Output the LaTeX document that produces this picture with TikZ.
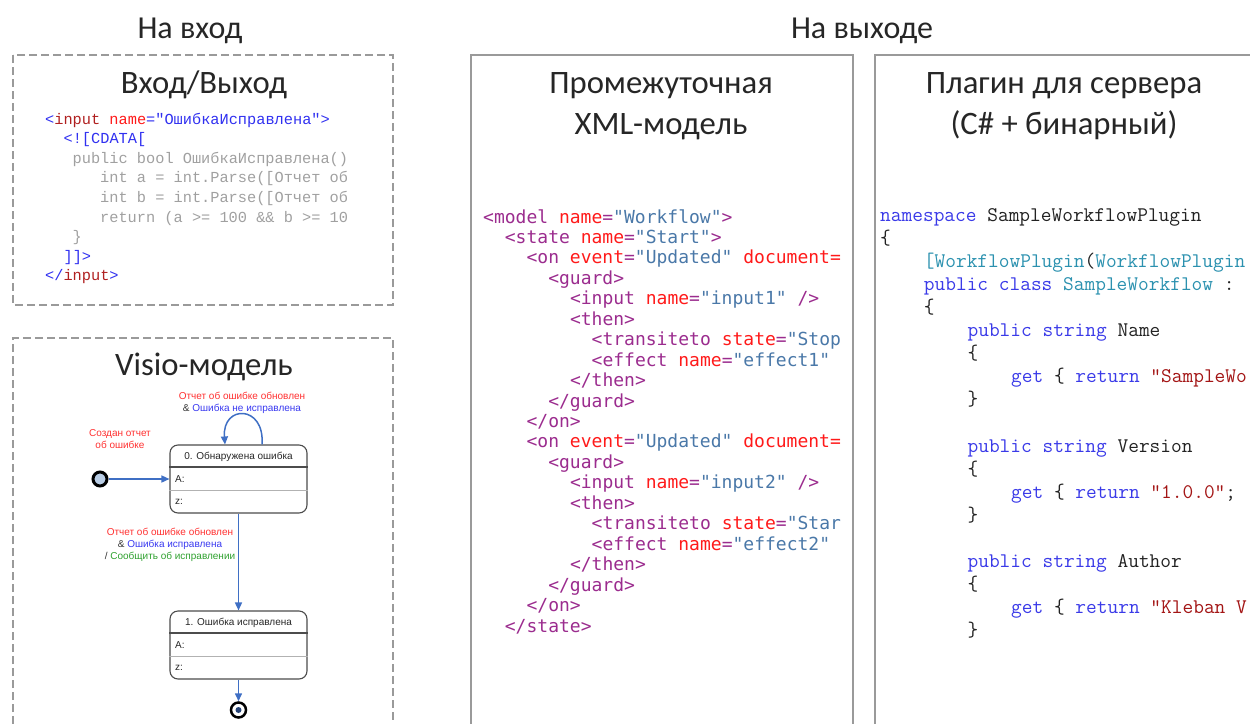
\documentclass[tikz,border=0pt]{standalone}
\usepackage{fontspec}
\setmainfont{Carlito}
\newfontfamily\cour{Liberation Mono}
\newfontfamily\cons{DejaVu Sans Mono}
\newfontfamily\arialf{Liberation Sans}
\usetikzlibrary{arrows.meta}
\definecolor{frame}{HTML}{9A9A9A}
\definecolor{xtag}{HTML}{9B2C8E}
\definecolor{xatt}{HTML}{FF1A1A}
\definecolor{xval}{HTML}{4A78A8}
\definecolor{ckey}{HTML}{3A3AE8}
\definecolor{ctyp}{HTML}{2B91AF}
\definecolor{cstr}{HTML}{A31515}
\definecolor{cpl}{HTML}{222222}
\definecolor{lblue}{HTML}{3030F0}
\definecolor{ldred}{HTML}{B02020}
\definecolor{lred}{HTML}{FF1A1A}
\definecolor{lgray}{HTML}{A0A0A0}
\definecolor{vred}{HTML}{FF3030}
\definecolor{vblue}{HTML}{3838F0}
\definecolor{vgreen}{HTML}{2EA02E}
\definecolor{vgray}{HTML}{333333}
\definecolor{flowc}{HTML}{3F6FC4}
\definecolor{initc}{HTML}{B9CDE5}
\newcommand\Xt[1]{\textcolor{xtag}{#1}}
\newcommand\Xa[1]{\textcolor{xatt}{#1}}
\newcommand\Xv[1]{\textcolor{xval}{#1}}
\newcommand\Ck[1]{\textcolor{ckey}{#1}}
\newcommand\Cy[1]{\textcolor{ctyp}{#1}}
\newcommand\Cs[1]{\textcolor{cstr}{#1}}
\tikzset{
  dashframe/.style={draw=frame, line width=1.4pt, dash pattern=on 8pt off 4pt},
  solidframe/.style={draw=frame, line width=1.4pt},
  heading/.style={anchor=base, inner sep=0pt, font=\fontsize{32}{38}\selectfont, text=black!85},
  title/.style={anchor=base, inner sep=0pt, font=\fontsize{32.7}{38}\selectfont, text=black!85},
  leftcode/.style={anchor=base west, inner sep=0pt, font=\cour\fontsize{15.3}{18}\selectfont\frenchspacing},
  xmlcode/.style={anchor=base west, inner sep=0pt, font=\cons\fontsize{18}{22}\selectfont\frenchspacing, text=xtag},
  cscode/.style={anchor=base west, inner sep=0pt, font=\ttfamily\fontsize{20.8}{24}\selectfont\frenchspacing, text=cpl},
  statebox/.style={draw=black!70, line width=1.1pt, rounded corners=8pt, minimum width=137pt, minimum height=68pt, inner sep=0pt},
  vlabel/.style={inner sep=0pt, align=center, font=\arialf\fontsize{10}{12}\selectfont},
  vtext/.style={inner sep=0pt, font=\arialf\fontsize{10}{12}\selectfont, text=black!85},
  flow/.style={draw=flowc, line width=1.5pt, -{Triangle[length=8pt,width=7pt]}},
}
\begin{document}
\begin{tikzpicture}[x=1pt,y=-1pt]
\useasboundingbox (0,0) rectangle (1250,723);
% frames
\draw[dashframe] (13,55) rectangle (393,305);
\draw[dashframe] (13,760) |- (393,338) -- (393,760);
\draw[solidframe] (471,760) |- (853,55) -- (853,760);
\draw[solidframe] (875,760) |- (1270,55);
% headings
\node[heading] (hin) at (190,38) {На вход};
\node[heading] (hout) at (862,38) {На выходе};
\node[title] (t1) at (204,93) {Вход/Выход};
\node[title] (t2) at (204,375) {Visio-модель};
\node[title] (t3a) at (661,93) {Промежуточная};
\node[title] (t3b) at (661,134) {XML-модель};
\node[title] (t4a) at (1064,93) {Плагин для сервера};
\node[title] (t4b) at (1064,134) {(C\# + бинарный)};
% left code
\node[leftcode] (l1) at (45,124) {\textcolor{lblue}{<}\textcolor{ldred}{input} \textcolor{lred}{name}\textcolor{lblue}{="ОшибкаИсправлена">}};
\node[leftcode] (l2) at (63.4,143.6) {\textcolor{lblue}{<![CDATA[}};
\node[leftcode, text=lgray] (l3) at (72.5,163.2) {public bool ОшибкаИсправлена()};
\node[leftcode, text=lgray] (l4) at (100,182.8) {int a = int.Parse([Отчет об};
\node[leftcode, text=lgray] (l5) at (100,202.4) {int b = int.Parse([Отчет об};
\node[leftcode, text=lgray] (l6) at (100,222) {return (a >= 100 \&\& b >= 10};
\node[leftcode, text=lgray] (l7) at (72.5,241.6) {\}};
\node[leftcode] (l8) at (63.4,261.2) {\textcolor{lblue}{]]>}};
\node[leftcode] (l9) at (45,280.8) {\textcolor{lblue}{</}\textcolor{ldred}{input}\textcolor{lblue}{>}};
% xml code
\node[xmlcode] (x1) at (483,223) {<model \Xa{name}=\Xv{"Workflow"}>};
\node[xmlcode] (x2) at (504.7,243.45) {<state \Xa{name}=\Xv{"Start"}>};
\node[xmlcode] (x3) at (526.4,263.9) {<on \Xa{event}=\Xv{"Updated"} \Xa{document=}};
\node[xmlcode] (x4) at (548.1,284.35) {<guard>};
\node[xmlcode] (x5) at (569.8,304.8) {<input \Xa{name}=\Xv{"input1"} />};
\node[xmlcode] (x6) at (569.8,325.25) {<then>};
\node[xmlcode] (x7) at (591.5,345.7) {<transiteto \Xa{state}=\Xv{"Stop}};
\node[xmlcode] (x8) at (591.5,366.15) {<effect \Xa{name}=\Xv{"effect1"}};
\node[xmlcode] (x9) at (569.8,386.6) {</then>};
\node[xmlcode] (x10) at (548.1,407.05) {</guard>};
\node[xmlcode] (x11) at (526.4,427.5) {</on>};
\node[xmlcode] (x12) at (526.4,447.95) {<on \Xa{event}=\Xv{"Updated"} \Xa{document=}};
\node[xmlcode] (x13) at (548.1,468.4) {<guard>};
\node[xmlcode] (x14) at (569.8,488.85) {<input \Xa{name}=\Xv{"input2"} />};
\node[xmlcode] (x15) at (569.8,509.3) {<then>};
\node[xmlcode] (x16) at (591.5,529.75) {<transiteto \Xa{state}=\Xv{"Star}};
\node[xmlcode] (x17) at (591.5,550.2) {<effect \Xa{name}=\Xv{"effect2"}};
\node[xmlcode] (x18) at (569.8,570.65) {</then>};
\node[xmlcode] (x19) at (548.1,591.1) {</guard>};
\node[xmlcode] (x20) at (526.4,611.55) {</on>};
\node[xmlcode] (x21) at (504.7,632) {</state>};
% C# code
\node[cscode] (c1) at (880,221) {\Ck{namespace} SampleWorkflowPlugin};
\node[cscode] (c2) at (880,244.1) {\{};
\node[cscode] (c3) at (923.7,267.2) {\Cy{[WorkflowPlugin}(\Cy{WorkflowPlugin}};
\node[cscode] (c4) at (923.7,290.3) {\Ck{public class} \Cy{SampleWorkflow} :};
\node[cscode] (c5) at (923.7,313.4) {\{};
\node[cscode] (c6) at (967.4,336.5) {\Ck{public string} Name};
\node[cscode] (c7) at (967.4,359.6) {\{};
\node[cscode] (c8) at (1011,382.7) {\Ck{get} \{ \Ck{return} \Cs{"SampleWo}};
\node[cscode] (c9) at (967.4,405.8) {\}};
\node[cscode] (c11) at (967.4,452) {\Ck{public string} Version};
\node[cscode] (c12) at (967.4,475.1) {\{};
\node[cscode] (c13) at (1011,498.2) {\Ck{get} \{ \Ck{return} \Cs{"1.0.0"};};
\node[cscode] (c14) at (967.4,521.3) {\}};
\node[cscode] (c16) at (967.4,567.5) {\Ck{public string} Author};
\node[cscode] (c17) at (967.4,590.6) {\{};
\node[cscode] (c18) at (1011,613.7) {\Ck{get} \{ \Ck{return} \Cs{"Kleban V}};
\node[cscode] (c19) at (967.4,636.8) {\}};
% Visio model
\node[statebox] (s0) at (238.5,479) {};
\draw[black!70, line width=2pt] ([yshift=-23pt]s0.north west) -- ([yshift=-23pt]s0.north east);
\draw[black!30, line width=1pt] ([yshift=-46pt]s0.north west) -- ([yshift=-46pt]s0.north east);
\node[vtext] (s0t) at (238.5,456.5) {0. Обнаружена ошибка};
\node[vtext, anchor=west] (s0a) at (175,479.5) {A:};
\node[vtext, anchor=west] (s0z) at (175,502) {z:};
\node[statebox] (s1) at (238.5,645) {};
\draw[black!70, line width=2pt] ([yshift=-23pt]s1.north west) -- ([yshift=-23pt]s1.north east);
\draw[black!30, line width=1pt] ([yshift=-46pt]s1.north west) -- ([yshift=-46pt]s1.north east);
\node[vtext] (s1t) at (238.5,622.5) {1. Ошибка исправлена};
\node[vtext, anchor=west] (s1a) at (175,645.5) {A:};
\node[vtext, anchor=west] (s1z) at (175,668) {z:};
\node[circle, draw=black, line width=3pt, fill=initc, minimum size=14pt, inner sep=0pt] (init) at (100,479) {};
\node[circle, draw=black, line width=2.5pt, fill=white, minimum size=15pt, inner sep=0pt] (fin) at (238.5,710) {};
\node[circle, fill=flowc!60!black, minimum size=6pt, inner sep=0pt] (fini) at (fin.center) {};
\draw[flow] (init) -- (s0);
\draw[flow] ([xshift=23.5pt]s0.north) .. controls +(3,-40) and +(-3,-40) .. ([xshift=-13.5pt]s0.north);
\draw[flow] (s0.south) -- (s1.north);
\draw[flow] (s1.south) -- (fin.north);
\node[vlabel, text=vred] (lb1) at (120,439.5) {Создан отчет\\об ошибке};
\node[vlabel] (lb2) at (242,403) {\textcolor{vred}{Отчет об ошибке обновлен}\\\textcolor{vgray}{\&} \textcolor{vblue}{Ошибка не исправлена}};
\node[vlabel] (lb3) at (170,545) {\textcolor{vred}{Отчет об ошибке обновлен}\\\textcolor{vgray}{\&} \textcolor{vblue}{Ошибка исправлена}\\\textcolor{vgray}{/} \textcolor{vgreen}{Сообщить об исправлении}};
\end{tikzpicture}
\end{document}
